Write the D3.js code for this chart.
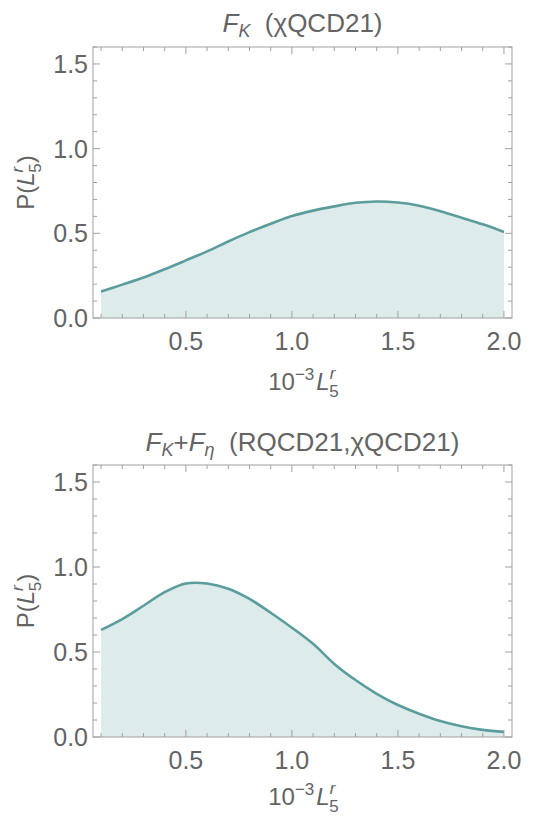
<!DOCTYPE html>
<html><head><meta charset="utf-8">
<script src="https://cdn.jsdelivr.net/npm/d3@7"></script>
<style>body{margin:0;background:#fff}text{font-family:"Liberation Sans",Arial,sans-serif;fill:#646464}</style>
</head><body><svg id="c" width="547" height="819"></svg>
<script>
const xs = [0.1,0.2,0.3,0.4,0.5,0.6,0.7,0.8,0.9,1.0,1.1,1.2,1.3,1.4,1.5,1.6,1.7,1.8,1.9,2.0];
const pTop = [0.156,0.197,0.239,0.288,0.340,0.393,0.452,0.507,0.556,0.602,0.634,0.659,0.680,0.688,0.682,0.663,0.630,0.592,0.553,0.508];
const pBottom = [0.630,0.694,0.772,0.852,0.903,0.903,0.872,0.812,0.731,0.643,0.548,0.430,0.335,0.254,0.188,0.137,0.094,0.063,0.042,0.030];
const xMajor = [0.5,1.0,1.5,2.0];
const yMajor = [0.0,0.5,1.0,1.5];

const svg = d3.select("#c");
const L = 93, R = 512;
const stroke = "#5b9c9c";
const frameCol = "#a0a0a0";
const tickFont = 25;

function panel(data, top, bottom, titleFn, titleY, xlabY) {
  const x = d3.scaleLinear().domain([0.062, 2.038]).range([L, R]);
  const y = d3.scaleLinear().domain([0, 1.6]).range([bottom, top]);
  const g = svg.append("g");
  const pts = xs.map((v,i)=>[v, data[i]]);
  const curve = d3.curveCatmullRom.alpha(0.5);
  const area = d3.area().x(d=>x(d[0])).y0(y(0)).y1(d=>y(d[1])).curve(curve);
  const line = d3.line().x(d=>x(d[0])).y(d=>y(d[1])).curve(curve);
  g.append("path").attr("d", area(pts)).attr("fill", stroke).attr("fill-opacity", 0.2);
  g.append("path").attr("d", line(pts)).attr("fill","none").attr("stroke", stroke).attr("stroke-width", 2.6);
  g.append("rect").attr("x",L).attr("y",top).attr("width",R-L).attr("height",bottom-top)
    .attr("fill","none").attr("stroke",frameCol).attr("stroke-width",1);
  const xMinor = d3.range(1, 21).map(i=>i/10);
  const yMinor = d3.range(0, 17).map(i=>i/10);
  const isMaj = (v, arr)=>arr.some(a=>Math.abs(a-v)<1e-9);
  xMinor.forEach(v=>{
    const len = isMaj(v,xMajor)?7:4;
    g.append("line").attr("x1",x(v)).attr("x2",x(v)).attr("y1",bottom).attr("y2",bottom-len).attr("stroke",frameCol);
    g.append("line").attr("x1",x(v)).attr("x2",x(v)).attr("y1",top).attr("y2",top+len).attr("stroke",frameCol);
  });
  yMinor.forEach(v=>{
    const len = isMaj(v,yMajor)?7:4;
    g.append("line").attr("y1",y(v)).attr("y2",y(v)).attr("x1",L).attr("x2",L+len).attr("stroke",frameCol);
    g.append("line").attr("y1",y(v)).attr("y2",y(v)).attr("x1",R).attr("x2",R-len).attr("stroke",frameCol);
  });
  xMajor.forEach(v=>{
    g.append("text").attr("x",x(v)).attr("y",bottom+32).attr("text-anchor","middle")
      .attr("font-size",tickFont).text(d3.format(".1f")(v));
  });
  yMajor.forEach(v=>{
    g.append("text").attr("x",L-5).attr("y",y(v)+9).attr("text-anchor","end")
      .attr("font-size",tickFont).text(d3.format(".1f")(v));
  });
  const t = g.append("text").attr("x",(L+R)/2).attr("y",titleY).attr("text-anchor","middle").attr("font-size",26);
  titleFn(t);
  const xl = g.append("text").attr("x",(L+R)/2+1).attr("y",xlabY).attr("text-anchor","middle").attr("font-size",24);
  xl.append("tspan").text("10");
  xl.append("tspan").attr("dy",-10).attr("font-size",17).text("−3");
  xl.append("tspan").attr("dy",10).attr("dx",2).attr("font-style","italic").text("L");
  xl.append("tspan").attr("dy",-11).attr("font-size",17).attr("font-style","italic").text("r");
  xl.append("tspan").attr("dy",18).attr("dx",-6).attr("font-size",17).text("5");
  const cy = (top+bottom)/2;
  const yl = g.append("text").attr("transform",`translate(34,${cy}) rotate(-90)`).attr("text-anchor","middle").attr("font-size",24);
  yl.append("tspan").text("P(");
  yl.append("tspan").attr("font-style","italic").text("L");
  yl.append("tspan").attr("dy",-11).attr("font-size",17).attr("font-style","italic").text("r");
  yl.append("tspan").attr("dy",18).attr("dx",-6).attr("font-size",17).text("5");
  yl.append("tspan").attr("dy",-7).text(")");
}

panel(pTop, 47, 318, t=>{
  t.append("tspan").attr("font-style","italic").text("F");
  t.append("tspan").attr("dy",5).attr("font-size",18).attr("font-style","italic").text("K");
  t.append("tspan").attr("dy",-5).text("\u00a0\u00a0(χQCD21)");
}, 32, 390);

panel(pBottom, 465, 737, t=>{
  t.append("tspan").attr("font-style","italic").text("F");
  t.append("tspan").attr("dy",5).attr("font-size",18).attr("font-style","italic").text("K");
  t.append("tspan").attr("dy",-5).text("+");
  t.append("tspan").attr("font-style","italic").text("F");
  t.append("tspan").attr("dy",5).attr("font-size",18).attr("font-style","italic").text("η");
  t.append("tspan").attr("dy",-5).text("\u00a0\u00a0(RQCD21,χQCD21)");
}, 451, 805);
</script></body></html>
